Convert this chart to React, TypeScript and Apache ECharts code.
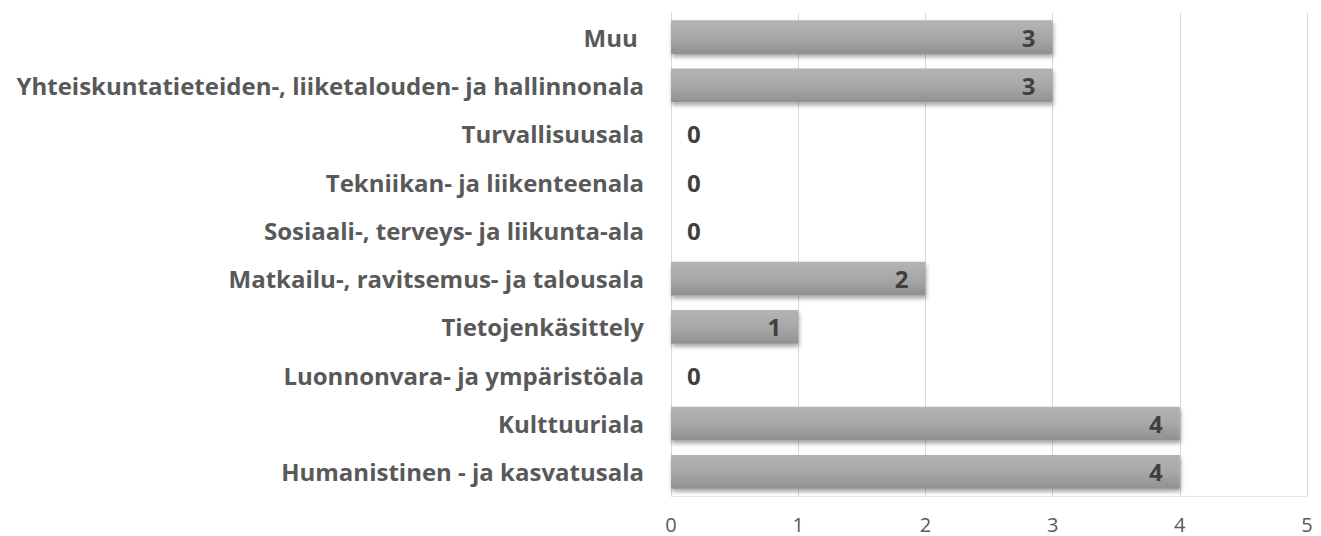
import React, { useEffect, useRef } from "react";
import * as echarts from "echarts";

const categories = [
  "Humanistinen - ja kasvatusala",
  "Kulttuuriala",
  "Luonnonvara- ja ympäristöala",
  "Tietojenkäsittely",
  "Matkailu-, ravitsemus- ja talousala",
  "Sosiaali-, terveys- ja liikunta-ala",
  "Tekniikan- ja liikenteenala",
  "Turvallisuusala",
  "Yhteiskuntatieteiden-, liiketalouden- ja hallinnonala",
  "Muu ",
];
const values = [4, 4, 0, 1, 2, 0, 0, 0, 3, 3];
const xTicks = [0, 1, 2, 3, 4, 5];

export default function App() {
  const ref = useRef<HTMLDivElement>(null);
  useEffect(() => {
    if (!ref.current) return;
    const chart = echarts.init(ref.current, null, { renderer: "svg" });
    const font = "'Open Sans', sans-serif";
    chart.setOption({
      animation: false,
      grid: { left: 671, right: 14, top: 13, bottom: 40, containLabel: false },
      xAxis: {
        type: "value",
        min: xTicks[0],
        max: xTicks[xTicks.length - 1],
        interval: 1,
        axisLine: { show: true, lineStyle: { color: "#e6e6e6", width: 1 } },
        axisTick: { show: false },
        splitLine: { show: true, lineStyle: { color: "#d9d9d9", width: 1 } },
        axisLabel: {
          color: "#595959",
          fontSize: 20,
          lineHeight: 20,
          fontFamily: font,
          margin: 18,
        },
      },
      yAxis: {
        type: "category",
        data: categories,
        axisLine: { show: true, lineStyle: { color: "#d9d9d9", width: 1 } },
        axisTick: { show: false },
        axisLabel: {
          color: "#595959",
          fontSize: 24,
          fontWeight: "bold",
          fontFamily: font,
          margin: 27,
        },
      },
      series: [
        {
          type: "bar",
          barWidth: "70%",
          data: values.map((v) => ({
            value: v,
            label:
              v === 0
                ? { position: "insideLeft", distance: 16 }
                : { position: "insideRight", distance: 17 },
          })),
          itemStyle: {
            color: new echarts.graphic.LinearGradient(0, 0, 0, 1, [
              { offset: 0, color: "#b4b4b4" },
              { offset: 0.5, color: "#a8a8a8" },
              { offset: 1, color: "#909090" },
            ]),
            shadowBlur: 4,
            shadowOffsetY: 3,
            shadowOffsetX: 1,
            shadowColor: "rgba(0,0,0,0.35)",
          },
          label: {
            show: true,
            color: "#404040",
            fontSize: 24,
            fontWeight: "bold",
            fontFamily: font,
          },
        },
      ],
    });
    return () => chart.dispose();
  }, []);
  return (
    <div
      ref={ref}
      style={{ position: "absolute", left: 0, top: 0, width: 1321, height: 536, background: "#fff" }}
    />
  );
}
